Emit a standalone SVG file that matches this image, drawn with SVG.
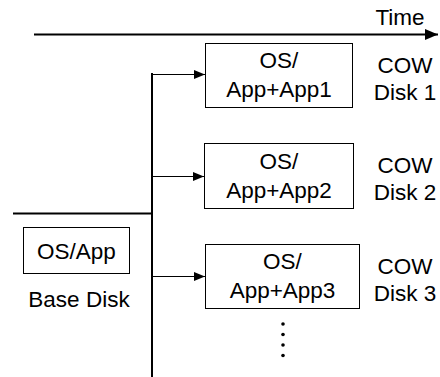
<svg xmlns="http://www.w3.org/2000/svg" width="440" height="377" viewBox="0 0 440 377">
  <style>
    .box { fill: #ffffff; stroke: #000000; stroke-width: 1; }
    .lbl { font-family: "Liberation Sans", Arial, sans-serif; font-size: 22.5px; fill: #000000; text-anchor: middle; }
    .thick { stroke: #000000; stroke-width: 2; fill: none; }
    .thin { stroke: #000000; stroke-width: 1; fill: none; }
  </style>
  <defs>
    <marker id="arrowBig" markerUnits="userSpaceOnUse" markerWidth="14" markerHeight="12" refX="13" refY="6" orient="auto">
      <path d="M0,0.5 L13,6 L0,11.5 Z" fill="#000000"/>
    </marker>
    <marker id="arrowSmall" markerUnits="userSpaceOnUse" markerWidth="12" markerHeight="10" refX="11" refY="5" orient="auto">
      <path d="M0,0.5 L11,5 L0,9.5 Z" fill="#000000"/>
    </marker>
  </defs>

  <!-- time axis -->
  <g id="timeline">
    <line class="thick" x1="34" y1="34.5" x2="438" y2="34.5" marker-end="url(#arrowBig)"/>
    <text class="lbl" x="400" y="25">Time</text>
  </g>

  <!-- trunk, base branch and fan-out arrows -->
  <g id="connectors">
    <line class="thick" x1="152" y1="73" x2="152" y2="377"/>
    <line class="thick" x1="13" y1="213.5" x2="152" y2="213.5"/>
    <line class="thin" x1="152" y1="74.5" x2="205" y2="74.5" marker-end="url(#arrowSmall)"/>
    <line class="thin" x1="152" y1="176.5" x2="204" y2="176.5" marker-end="url(#arrowSmall)"/>
    <line class="thin" x1="152" y1="276.5" x2="205" y2="276.5" marker-end="url(#arrowSmall)"/>
  </g>

  <g id="base-disk">
    <rect class="box" x="23.5" y="227.5" width="106" height="46"/>
    <text class="lbl" x="76.5" y="259">OS/App</text>
    <text class="lbl" x="79" y="307">Base Disk</text>
  </g>

  <g id="cow-disk-1">
    <rect class="box" x="205.5" y="43.5" width="147" height="64"/>
    <text class="lbl" x="279" y="68">OS/</text>
    <text class="lbl" x="279" y="97">App+App1</text>
    <text class="lbl" x="405" y="73">COW</text>
    <text class="lbl" x="405" y="100">Disk 1</text>
  </g>

  <g id="cow-disk-2">
    <rect class="box" x="204.5" y="143.5" width="149" height="65"/>
    <text class="lbl" x="279" y="169">OS/</text>
    <text class="lbl" x="279" y="198">App+App2</text>
    <text class="lbl" x="405" y="173">COW</text>
    <text class="lbl" x="405" y="200">Disk 2</text>
  </g>

  <g id="cow-disk-3">
    <rect class="box" x="205.5" y="244.5" width="154" height="64"/>
    <text class="lbl" x="282.5" y="269">OS/</text>
    <text class="lbl" x="282.5" y="298">App+App3</text>
    <text class="lbl" x="405" y="274">COW</text>
    <text class="lbl" x="405" y="301">Disk 3</text>
  </g>

  <!-- continuation dots -->
  <g id="more" fill="#000000">
    <circle cx="283" cy="324" r="1.8"/>
    <circle cx="283" cy="334.5" r="1.8"/>
    <circle cx="283" cy="345" r="1.8"/>
    <circle cx="283" cy="355.5" r="1.8"/>
  </g>
</svg>
